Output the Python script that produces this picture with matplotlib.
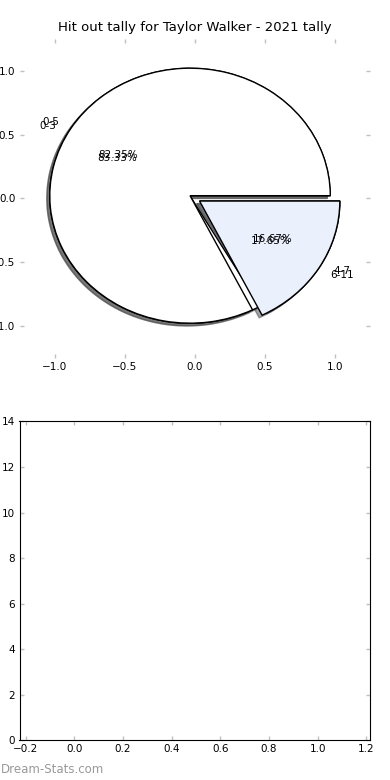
import matplotlib
matplotlib.use("Agg")
import matplotlib.pyplot as plt

# two tallies drawn on the same pie axes
labels_a = ["0-3", "4-7"]
counts_a = [5, 1]
labels_b = ["0-5", "6-11"]
counts_b = [14, 3]
slice_colors = ["white", "#eaf0fc"]

title = "Hit out tally for Taylor Walker - 2021 tally"
pie_ticks = [-1.0, -0.5, 0.0, 0.5, 1.0]
bottom_xticks = [-0.2, 0.0, 0.2, 0.4, 0.6, 0.8, 1.0, 1.2]
bottom_yticks = [0, 2, 4, 6, 8, 10, 12, 14]

plt.rcParams["font.family"] = "DejaVu Sans"
plt.rcParams["font.size"] = 7.5

fig, (ax1, ax2) = plt.subplots(2, 1, figsize=(3.9, 7.8), dpi=100)
fig.subplots_adjust(left=0.05, right=0.949, bottom=0.051, top=0.95, hspace=0.2)

wedge_style = {"edgecolor": "black", "linewidth": 1.0}
shadow_style = {"ox": -0.015, "oy": -0.015}
for labels, counts in [(labels_a, counts_a), (labels_b, counts_b)]:
    ax1.pie(counts, labels=labels, colors=slice_colors, explode=[0.04, 0.04],
            autopct="%1.2f%%", shadow=shadow_style, frame=True,
            wedgeprops=wedge_style, textprops={"fontsize": 7.5})

ax1.set_aspect("auto")
ax1.set_frame_on(False)
ax1.set_xlim(-1.25, 1.25)
ax1.set_ylim(-1.25, 1.25)
ax1.set_xticks(pie_ticks)
ax1.set_yticks(pie_ticks)
ax1.set_title(title, fontsize=9.5, pad=6)

ax2.set_xlim(-0.225, 1.215)
ax2.set_ylim(bottom_yticks[0], bottom_yticks[-1])
ax2.set_xticks(bottom_xticks)
ax2.set_yticks(bottom_yticks)

for ax in (ax1, ax2):
    ax.tick_params(direction="in", length=3, width=1, color="#c0c0c0",
                   top=True, right=True, pad=3, labelsize=7.5)

fig.text(0.002, 0.013, "Dream-Stats.com", color="#999999", fontsize=8.5,
         ha="left", va="center")

fig.savefig("out.png", dpi=100)
